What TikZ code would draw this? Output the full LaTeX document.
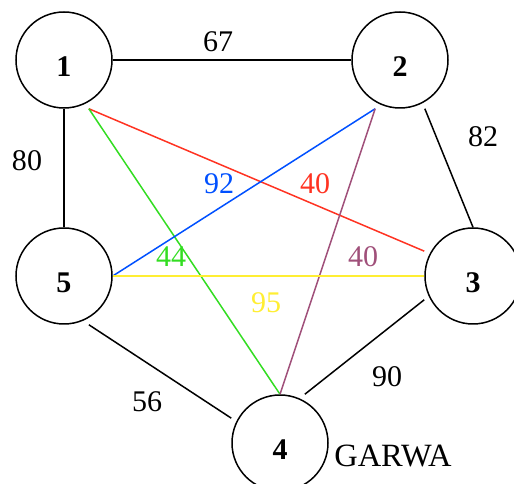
\documentclass[tikz,border=0pt]{standalone}
\usepackage{fontspec}
\setmainfont{Liberation Serif}
\definecolor{edgered}{RGB}{255,51,34}
\definecolor{edgegreen}{RGB}{51,221,34}
\definecolor{edgeblue}{RGB}{0,80,255}
\definecolor{edgeplum}{RGB}{160,80,122}
\definecolor{edgeyellow}{RGB}{255,238,51}
\begin{document}
\begin{tikzpicture}[x=0.4pt,y=-0.4pt,line width=0.6pt,
    vertex/.style={rectangle, minimum size=38.4pt, inner sep=0pt, text height=13pt, text depth=0pt, font=\fontsize{12}{14}\selectfont\bfseries},
    weight/.style={inner sep=0pt, font=\fontsize{12}{14}\selectfont}]
    \clip (0,0) rectangle (514,484);
    \node[vertex] (n1) at (64,60) {1};
    \node[vertex] (n2) at (400,60) {2};
    \node[vertex] (n3) at (473,276) {3};
    \node[vertex] (n4) at (280,443) {4};
    \node[vertex] (n5) at (64,276) {5};
    \foreach \v in {1,...,5}
      \draw (n\v) circle[radius=48];
    \draw (n1.0) -- (n2.180);
    \draw (n1.-90) -- (n5.90);
    \draw (n2.-63) -- (n3.90);
    \draw (n5.-63) -- (n4.153);
    \draw (n3.206) -- (n4.63);
    \draw[edgered] (n1.-63) -- (n3.153);
    \draw[edgegreen] (n1.-63) -- (n4.90);
    \draw[edgeblue] (n5.0) -- (n2.-117);
    \draw[edgeplum] (n2.-117) -- (n4.90);
    \draw[edgeyellow] (n5.0) -- (n3.180);
    \node[weight] (w12) at (218,42) {67};
    \node[weight] (w15) at (27,161) {80};
    \node[weight] (w23) at (483,137) {82};
    \node[weight] (w54) at (147,402) {56};
    \node[weight] (w34) at (387,377) {90};
    \node[weight, text=edgered] (w13) at (315,184) {40};
    \node[weight, text=edgeblue] (w52) at (219,184) {92};
    \node[weight, text=edgegreen] (w14) at (171,257) {44};
    \node[weight, text=edgeplum] (w24) at (363,257) {40};
    \node[weight, text=edgeyellow] (w53) at (266,303) {95};
    \node[weight, font=\fontsize{13}{15}\selectfont] (garwa) at (393,456) {GARWA};
  \end{tikzpicture}
\end{document}
